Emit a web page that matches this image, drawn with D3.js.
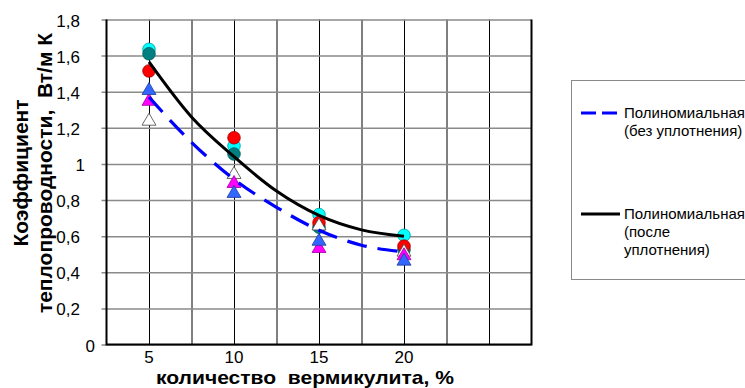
<!doctype html>
<html>

<head>
    <style>
        body { margin: 0; background: #fff; }
        text { font-family: "Liberation Sans", Arial, sans-serif; fill: #000; white-space: pre; }
    </style>
    <script src="https://d3js.org/d3.v7.min.js"></script>
</head>

<body>
    <svg width="745" height="388"></svg>
    <script>
        // measured points
        var xVals = [5, 10, 15, 20];
        var cyanVals = [1.635, 1.10, 0.72, 0.605];
        var tealVals = [1.61, 1.055, 0.65, 0.525];
        var redVals = [1.515, 1.145, 0.675, 0.545];
        var whiteVals = [1.245, 0.95, 0.665, 0.52];
        var magentaVals = [1.355, 0.90, 0.54, 0.50];
        var blueVals = [1.415, 0.845, 0.58, 0.47];

        // trend lines
        var trendX = [5, 7.5, 10, 12.5, 15, 17.5, 20];
        var trendBefore = [1.37, 1.12, 0.915, 0.76, 0.633, 0.55, 0.513];
        var trendAfter = [1.565, 1.26, 1.04, 0.85, 0.715, 0.635, 0.60];

        var xTicks = [5, 10, 15, 20];
        var yTicks = [0, 0.2, 0.4, 0.6, 0.8, 1, 1.2, 1.4, 1.6, 1.8];
        var legendLabels = [["Полиномиальная", "(без уплотнения)"], ["Полиномиальная", "(после", "уплотнения)"]];

        var svg = d3.select("svg");

        var x = d3.scaleLinear().domain([2.5, 27.5]).range([106.5, 531.5]),
            y = d3.scaleLinear().domain([0, 1.8]).range([344.5, 19.5]);

        var g = svg.append("g");

        // vertical grid every 2.5
        g.append("g")
            .attr("transform", "translate(0," + y(0) + ")")
            .call(d3.axisBottom(x).tickValues(d3.range(5, 27.5, 2.5)).tickSize(-(y(0) - y(1.8))).tickFormat(""))
            .call(function (a) { a.select(".domain").remove(); })
            .selectAll("line").attr("stroke", "#000").attr("stroke-width", 1);

        // horizontal grid with ticks sticking out to the left
        g.append("g")
            .attr("transform", "translate(" + (x(27.5)) + ",0)")
            .call(d3.axisLeft(y).tickValues(yTicks).tickSize(x(27.5) - x(2.5) + 5).tickFormat(""))
            .call(function (a) { a.select(".domain").remove(); })
            .selectAll("line").attr("stroke", "#8a8a8a").attr("stroke-width", 1.5);

        // y labels (the whole numbers sit a bit further right in the original)
        g.selectAll(".ylab")
            .data(yTicks)
            .enter().append("text")
            .attr("class", "ylab")
            .attr("x", function (d) { return d === 0 ? 95 : (d === 1 ? 85 : 80); })
            .attr("y", function (d) { return y(d) + 7; })
            .attr("text-anchor", "end")
            .style("font-size", "17px")
            .text(function (d) { return d3.format(".1~f")(d).replace(".", ","); });

        // x labels
        g.selectAll(".xlab")
            .data(xTicks)
            .enter().append("text")
            .attr("class", "xlab")
            .attr("x", function (d) { return x(d); })
            .attr("y", 363)
            .attr("text-anchor", "middle")
            .style("font-size", "17px")
            .text(function (d) { return d; });

        // frame
        g.append("path")
            .attr("d", "M" + x(2.5) + "," + y(1.8) + "V" + y(0) + "H" + x(27.5) + "V" + y(1.8))
            .attr("fill", "none")
            .attr("stroke", "#000")
            .attr("stroke-width", 2);

        // markers
        var tri = "M0,-6.5L7,5.5L-7,5.5Z";

        function circles(vals, fill, stroke) {
            g.append("g").selectAll("circle")
                .data(vals)
                .enter().append("circle")
                .attr("cx", function (d, i) { return x(xVals[i]); })
                .attr("cy", function (d) { return y(d); })
                .attr("r", 6.3)
                .attr("fill", fill)
                .attr("stroke", stroke)
                .attr("stroke-width", 0.8);
        }

        function triangles(vals, fill, stroke) {
            g.append("g").selectAll("path")
                .data(vals)
                .enter().append("path")
                .attr("d", tri)
                .attr("transform", function (d, i) { return "translate(" + x(xVals[i]) + "," + y(d) + ")"; })
                .attr("fill", fill)
                .attr("stroke", stroke)
                .attr("stroke-width", 0.8);
        }

        circles(cyanVals, "#00ffff", "#009a9a");
        circles(tealVals, "#008080", "#005a5a");
        circles(redVals, "#ff0000", "#a00000");
        triangles(whiteVals, "#ffffff", "#444");
        triangles(magentaVals, "#ff00ff", "#a000a0");
        triangles(blueVals, "#3366ff", "#1d3c9c");

        // trend lines
        var line = function (vals) {
            return d3.line()
                .x(function (d, i) { return x(trendX[i]); })
                .y(function (d) { return y(d); })
                .curve(d3.curveMonotoneX)(vals);
        };

        g.append("path")
            .attr("d", line(trendBefore))
            .attr("fill", "none")
            .attr("stroke", "#0000ff")
            .attr("stroke-width", 3.2)
            .attr("stroke-dasharray", "20,11");

        g.append("path")
            .attr("d", line(trendAfter))
            .attr("fill", "none")
            .attr("stroke", "#000")
            .attr("stroke-width", 3);

        // axis titles
        svg.append("text")
            .attr("x", 305)
            .attr("y", 384)
            .attr("text-anchor", "middle")
            .attr("textLength", 298)
            .attr("lengthAdjust", "spacingAndGlyphs")
            .style("font-size", "19px")
            .style("font-weight", "bold")
            .text("количество  вермикулита, %");

        var yt = svg.append("text")
            .attr("transform", "translate(0,173) rotate(-90)")
            .attr("text-anchor", "middle")
            .style("font-size", "21px")
            .style("font-weight", "bold");
        yt.append("tspan").attr("x", 0).attr("y", 28).text("Коэффициент");
        yt.append("tspan").attr("x", 0).attr("y", 52).text("теплопроводности,  Вт/м К");

        // legend
        var lg = svg.append("g");
        lg.append("rect")
            .attr("x", 571.5).attr("y", 80.5)
            .attr("width", 200).attr("height", 199)
            .attr("fill", "#fff")
            .attr("stroke", "#8a8a8a");

        var legendY = [113, 214];
        lg.append("line")
            .attr("x1", 581).attr("x2", 620)
            .attr("y1", legendY[0]).attr("y2", legendY[0])
            .attr("stroke", "#0000ff").attr("stroke-width", 3)
            .attr("stroke-dasharray", "15,6");
        lg.append("line")
            .attr("x1", 581).attr("x2", 620)
            .attr("y1", legendY[1]).attr("y2", legendY[1])
            .attr("stroke", "#000").attr("stroke-width", 3);

        legendLabels.forEach(function (lines, k) {
            var t = lg.append("text").style("font-size", "15px");
            lines.forEach(function (s, j) {
                t.append("tspan").attr("x", 624).attr("y", legendY[k] + 5 + j * 18).text(s);
            });
        });
    </script>
</body>

</html>
